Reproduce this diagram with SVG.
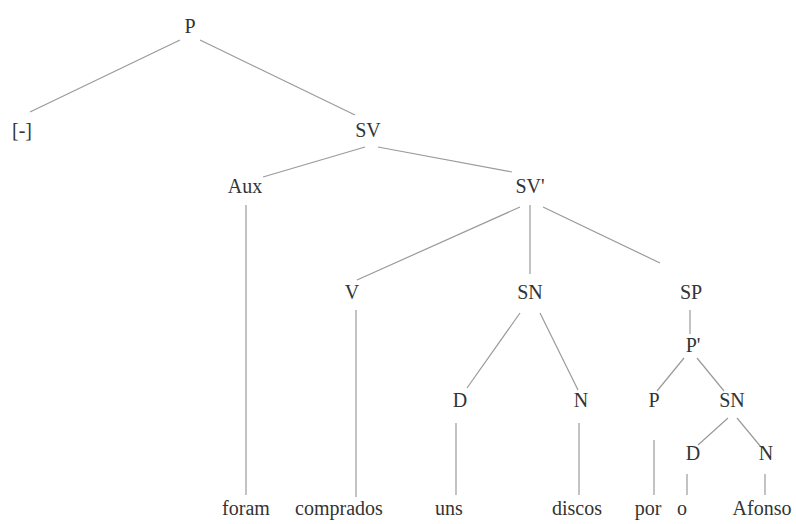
<svg xmlns="http://www.w3.org/2000/svg" width="796" height="524" viewBox="0 0 796 524">
<style>
text{font-family:"Liberation Serif","Times New Roman",serif;font-size:20px;fill:#333;text-anchor:middle}
.e line{stroke:#9a9a9a;stroke-width:1.2}
</style>
<rect width="796" height="524" fill="#fff"/>
<g class="e" id="edges">
<line x1="180" y1="40" x2="30" y2="112"/>
<line x1="200" y1="40" x2="355" y2="115"/>
<line x1="365" y1="147" x2="263" y2="177"/>
<line x1="378" y1="147" x2="512" y2="172"/>
<line x1="246" y1="205" x2="246" y2="495"/>
<line x1="520" y1="207" x2="357" y2="280"/>
<line x1="530" y1="205" x2="530" y2="274"/>
<line x1="543" y1="207" x2="660" y2="263"/>
<line x1="356" y1="310" x2="356" y2="497"/>
<line x1="520" y1="313" x2="467" y2="388"/>
<line x1="540" y1="313" x2="578" y2="390"/>
<line x1="690" y1="310" x2="690" y2="334"/>
<line x1="684" y1="358" x2="657" y2="391"/>
<line x1="697" y1="358" x2="724" y2="391"/>
<line x1="456" y1="423" x2="456" y2="495"/>
<line x1="579" y1="423" x2="579" y2="495"/>
<line x1="654" y1="440" x2="654" y2="495"/>
<line x1="728" y1="418" x2="698" y2="445"/>
<line x1="737" y1="418" x2="761" y2="447"/>
<line x1="687" y1="474" x2="687" y2="495"/>
<line x1="765" y1="474" x2="765" y2="495"/>
</g>
<g id="n-P"><text x="190" y="33">P</text></g>
<g id="n-empty"><text x="22" y="137">[-]</text></g>
<g id="n-SV"><text x="368" y="137">SV</text></g>
<g id="n-Aux"><text x="245" y="193">Aux</text></g>
<g id="n-SVbar"><text x="530" y="193">SV'</text></g>
<g id="n-V"><text x="352" y="299">V</text></g>
<g id="n-SN1"><text x="530" y="299">SN</text></g>
<g id="n-SP"><text x="691" y="299">SP</text></g>
<g id="n-Pbar"><text x="693" y="352">P'</text></g>
<g id="n-D1"><text x="460" y="407">D</text></g>
<g id="n-N1"><text x="581" y="407">N</text></g>
<g id="n-P2"><text x="654" y="407">P</text></g>
<g id="n-SN2"><text x="732" y="407">SN</text></g>
<g id="n-D2"><text x="693" y="460">D</text></g>
<g id="n-N2"><text x="766" y="460">N</text></g>
<g id="w-foram"><text x="246" y="515">foram</text></g>
<g id="w-comprados"><text x="339" y="515">comprados</text></g>
<g id="w-uns"><text x="449" y="515">uns</text></g>
<g id="w-discos"><text x="577" y="515">discos</text></g>
<g id="w-por"><text x="648" y="515">por</text></g>
<g id="w-o"><text x="682" y="515">o</text></g>
<g id="w-Afonso"><text x="762" y="515">Afonso</text></g>
</svg>
